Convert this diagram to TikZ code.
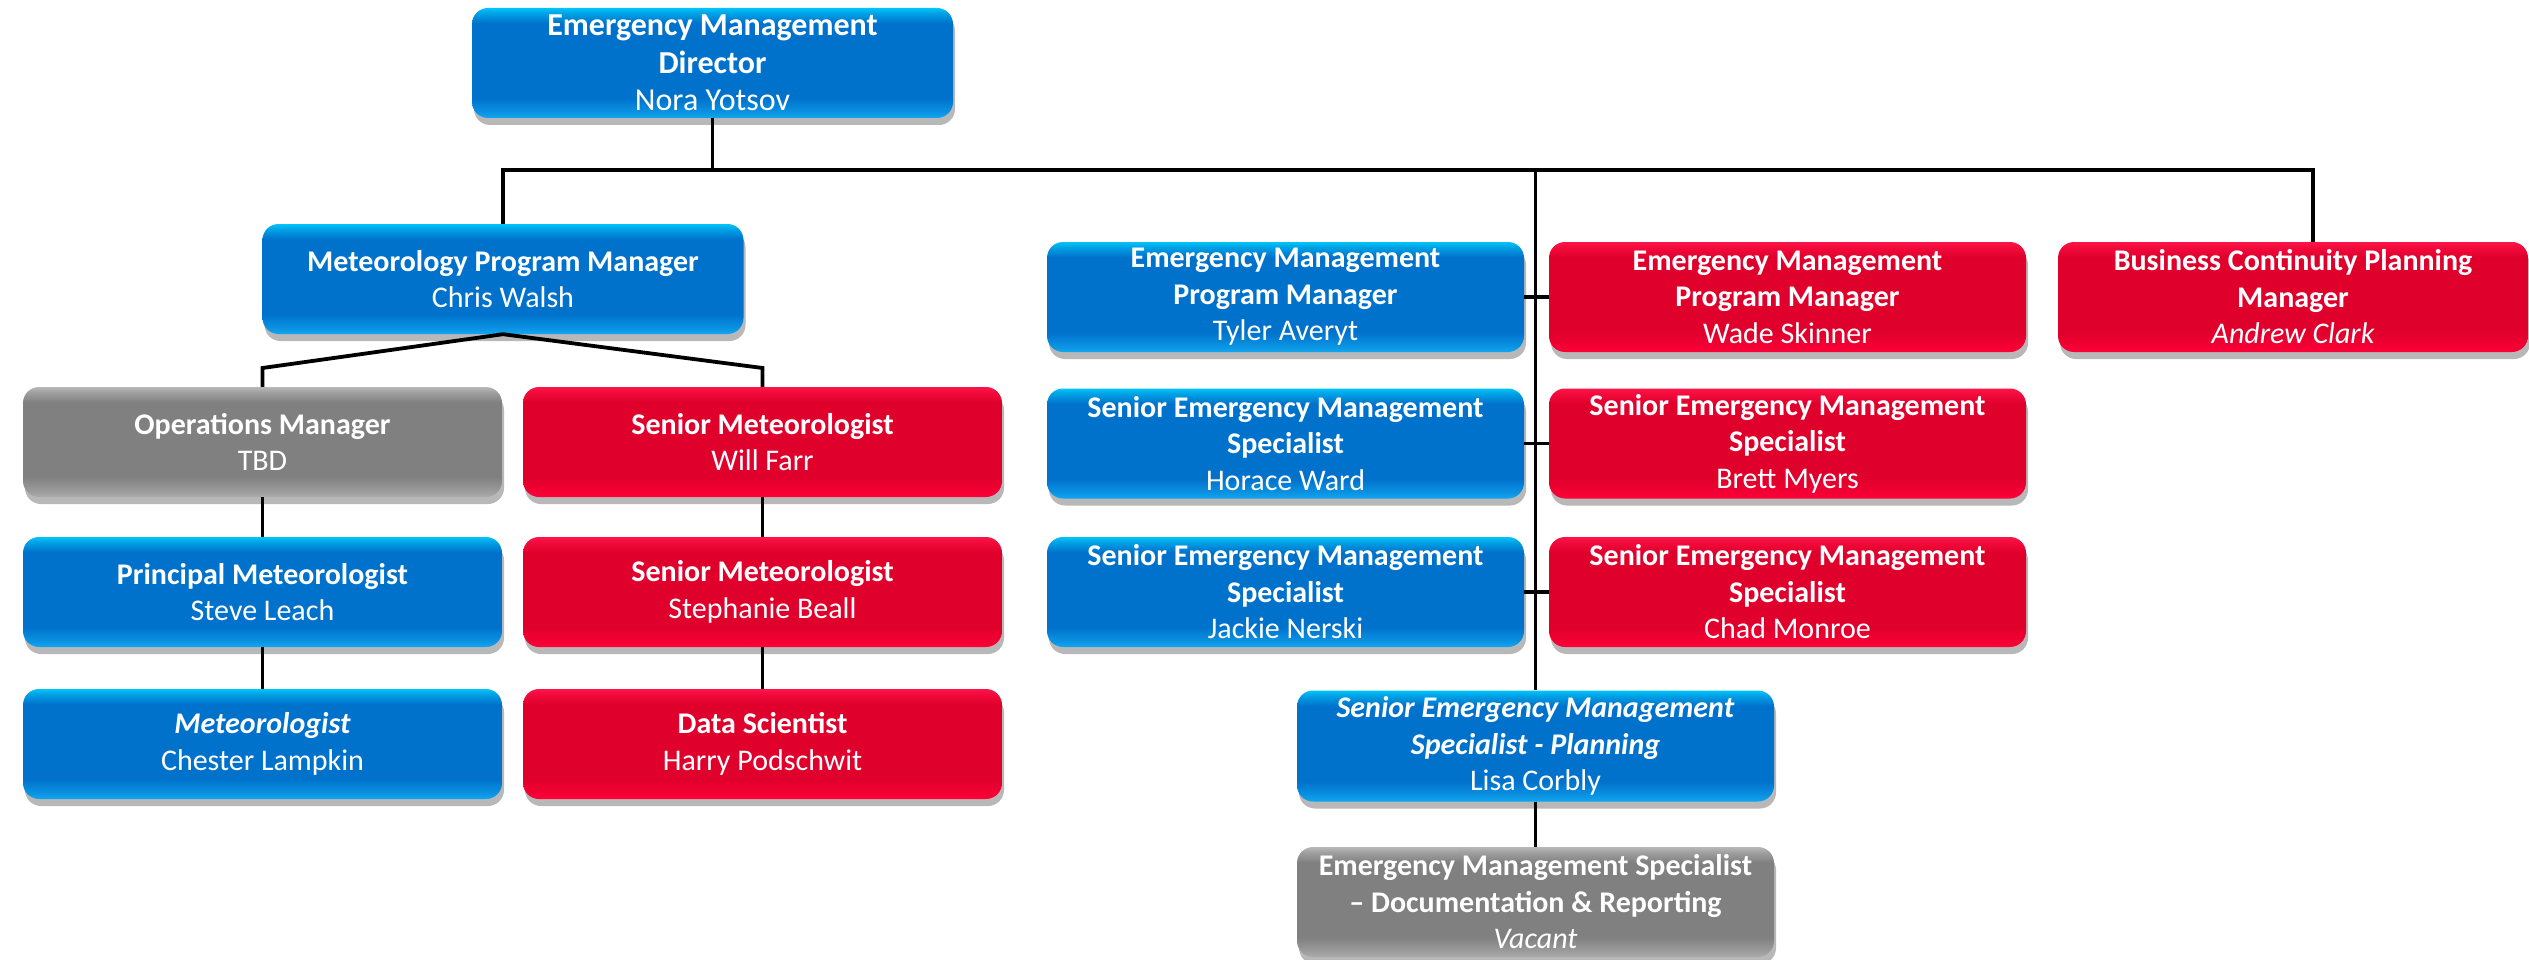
\documentclass[tikz,border=0pt]{standalone}
\usepackage{fontspec}
\setmainfont{Carlito}
\usetikzlibrary{shadows}
\definecolor{bluetop}{RGB}{0,196,248}
\definecolor{bluebot}{RGB}{18,166,240}
\definecolor{bluemid}{RGB}{0,114,204}
\definecolor{redtop}{RGB}{255,20,72}
\definecolor{redbot}{RGB}{255,0,56}
\definecolor{redmid}{RGB}{224,0,44}
\definecolor{graytop}{RGB}{184,184,184}
\definecolor{graybot}{RGB}{172,172,172}
\definecolor{graymid}{RGB}{128,128,128}
\pgfdeclareverticalshading{blueshade}{100bp}{color(0bp)=(bluebot); color(25bp)=(bluebot); color(28bp)=(bluebot!60!bluemid); color(34bp)=(bluemid); color(68bp)=(bluemid); color(72.5bp)=(bluetop!55!bluemid); color(75bp)=(bluetop); color(100bp)=(bluetop)}
\pgfdeclareverticalshading{redshade}{100bp}{color(0bp)=(redbot); color(25bp)=(redbot); color(28bp)=(redbot!60!redmid); color(34bp)=(redmid); color(68bp)=(redmid); color(72.5bp)=(redtop!55!redmid); color(75bp)=(redtop); color(100bp)=(redtop)}
\pgfdeclareverticalshading{grayshade}{100bp}{color(0bp)=(graybot); color(25bp)=(graybot); color(28bp)=(graybot!60!graymid); color(34bp)=(graymid); color(68bp)=(graymid); color(72.5bp)=(graytop!55!graymid); color(75bp)=(graytop); color(100bp)=(graytop)}
\tikzset{
  card/.style={rounded corners=16pt, minimum width=479pt, minimum height=110pt,
    inner sep=0pt, text=white, align=center,
    font=\fontsize{30}{36.5}\selectfont,
    drop shadow={shadow xshift=2pt, shadow yshift=-7pt, opacity=0.28, fill=black}},
  bluecard/.style={card, shade, shading=blueshade},
  redcard/.style={card, shade, shading=redshade},
  graycard/.style={card, shade, shading=grayshade},
  link/.style={line width=3.8pt, black}
}
\begin{document}
\begin{tikzpicture}[x=1pt, y=-1pt]
\useasboundingbox (0,0) rectangle (2529,960);
% left part
\node[bluecard, minimum width=481pt, font=\fontsize{32}{37.5}\selectfont] (dir) at (712.5,63) {\textbf{Emergency Management}\\\textbf{Director}\\Nora Yotsov};
\node[bluecard, minimum width=481pt] (met) at (503,279) {\textbf{Meteorology Program Manager}\\Chris Walsh};
\node[graycard] (ops) at (262.5,442) {\textbf{Operations Manager}\\TBD};
\node[redcard] (sm1) at (762.5,442) {\textbf{Senior Meteorologist}\\Will Farr};
\node[bluecard] (pm) at (262.5,592) {\textbf{Principal Meteorologist}\\Steve Leach};
\node[redcard] (sm2) at (762.5,592) {\textbf{Senior Meteorologist}\\Stephanie Beall};
\node[bluecard] (mlg) at (262.5,744) {\textbf{\itshape Meteorologist}\\Chester Lampkin};
\node[redcard] (ds) at (762.5,744) {\textbf{Data Scientist}\\Harry Podschwit};
% right part
\node[bluecard, minimum width=477pt] (tyler) at (1285.5,297) {\textbf{Emergency Management}\\\textbf{Program Manager}\\Tyler Averyt};
\node[redcard, minimum width=477pt] (wade) at (1787.5,297) {\textbf{Emergency Management}\\\textbf{Program Manager}\\Wade Skinner};
\node[redcard, minimum width=470pt] (bcp) at (2293,297) {\textbf{Business Continuity Planning}\\\textbf{Manager}\\\itshape Andrew Clark};
\node[bluecard, minimum width=477pt] (horace) at (1285.5,443.5) {\textbf{Senior Emergency Management}\\\textbf{Specialist}\\Horace Ward};
\node[redcard, minimum width=477pt] (brett) at (1787.5,443.5) {\textbf{Senior Emergency Management}\\\textbf{Specialist}\\Brett Myers};
\node[bluecard, minimum width=477pt] (jackie) at (1285.5,592) {\textbf{Senior Emergency Management}\\\textbf{Specialist}\\Jackie Nerski};
\node[redcard, minimum width=477pt] (chad) at (1787.5,592) {\textbf{Senior Emergency Management}\\\textbf{Specialist}\\Chad Monroe};
\node[bluecard, minimum width=477pt, minimum height=111pt] (lisa) at (1535.5,746) {\textbf{\itshape Senior Emergency Management}\\\textbf{\itshape Specialist - Planning}\\Lisa Corbly};
\node[graycard, minimum width=477pt] (doc) at (1535.5,902) {\textbf{Emergency Management Specialist}\\\textbf{-- Documentation \& Reporting}\\\itshape Vacant};
% connectors
\coordinate (bus) at (0,170);
\coordinate (bcpx) at (2313,170);
\coordinate (brL) at (262.5,368);
\coordinate (brR) at (762.5,368);
\draw[link] (dir.south) -- (dir.south |- bus);
\draw[link] (met.north) -- (met.north |- bus) -- (bcpx) -- (bcpx |- bcp.north);
\draw[link] (lisa.north |- bus) -- (lisa.north);
\draw[link] (lisa.south) -- (doc.north);
\draw[link] (ops.north) -- (brL) -- (met.south) -- (brR) -- (sm1.north);
\draw[link] (ops.south) -- (pm.north);
\draw[link] (pm.south) -- (mlg.north);
\draw[link] (sm1.south) -- (sm2.north);
\draw[link] (sm2.south) -- (ds.north);
\draw[link] (tyler.east) -- (wade.west);
\draw[link] (horace.east) -- (brett.west);
\draw[link] (jackie.east) -- (chad.west);
\end{tikzpicture}
\end{document}
